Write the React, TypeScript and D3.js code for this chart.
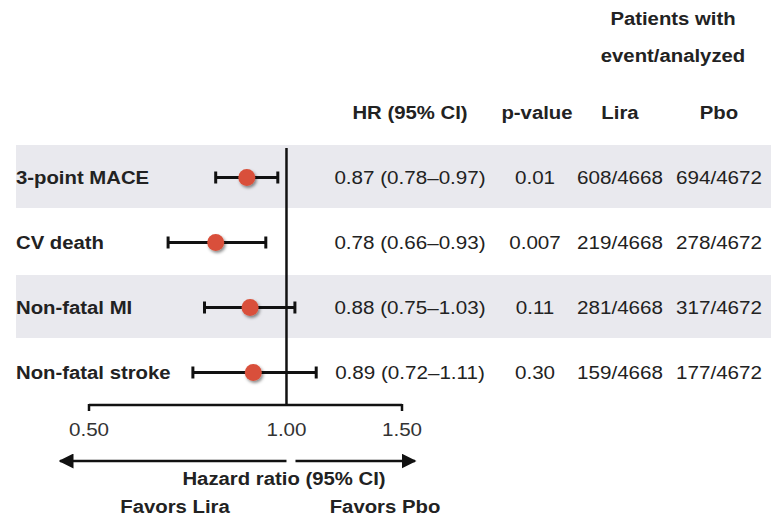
import React from "react";
import * as d3 from "d3";

const outcomes = ["3-point MACE", "CV death", "Non-fatal MI", "Non-fatal stroke"];
const hr = [0.87, 0.78, 0.88, 0.89];
const lower = [0.78, 0.66, 0.75, 0.72];
const upper = [0.97, 0.93, 1.03, 1.11];
const hrText = ["0.87 (0.78\u20130.97)", "0.78 (0.66\u20130.93)", "0.88 (0.75\u20131.03)", "0.89 (0.72\u20131.11)"];
const pValues = ["0.01", "0.007", "0.11", "0.30"];
const liraEvents = ["608/4668", "219/4668", "281/4668", "159/4668"];
const pboEvents = ["694/4672", "278/4672", "317/4672", "177/4672"];
const tickValues = [0.5, 1.0, 1.5];
const tickLabels = ["0.50", "1.00", "1.50"];

const W = 771;
const H = 518;
const FONT = "'Liberation Sans', Arial, sans-serif";
const TXT = "#222";
const FS = 19;

function T({ x, y, children, anchor = "start", bold = false, fill = TXT, sx }: any) {
  const s = sx ?? (bold ? 1.07 : 1.085);
  return (
    <text
      transform={`translate(${x},${y}) scale(${s},1)`}
      dy="0.35em"
      textAnchor={anchor}
      fontWeight={bold ? "bold" : "normal"}
      fontSize={FS}
      fill={fill}
    >
      {children}
    </text>
  );
}

export default function App() {
  const x = d3.scaleLog().domain([0.5, 1.5]).range([89, 402]);
  const y = d3.scaleBand<number>().domain(d3.range(outcomes.length)).range([146, 406]).paddingInner(0);
  const bw = y.bandwidth();
  const axisY = 405;
  const cols = { hr: 410, p: 535, lira: 620, pbo: 719 };

  return (
    <svg width={W} height={H} style={{ position: "absolute", left: 0, top: 0 }} fontFamily={FONT}>
      <defs>
        <filter id="sh" x="-50%" y="-50%" width="200%" height="200%">
          <feDropShadow dx="1.5" dy="2" stdDeviation="1.5" floodColor="#000" floodOpacity="0.45" />
        </filter>
        <marker id="arr" viewBox="0 0 10 10" refX="9" refY="5" markerWidth="6" markerHeight="6" orient="auto-start-reverse">
          <path d="M0,0 L10,5 L0,10 z" fill="#111" />
        </marker>
      </defs>
      <rect width={W} height={H} fill="#fff" />
      {outcomes.map((o, i) =>
        i % 2 === 0 ? (
          <rect key={"b" + i} x={16} y={(y(i) as number) - 1} width={W - 16} height={bw - 2} fill="#e9e9ee" />
        ) : null
      )}
      {/* headers */}
      <T x={673} y={18} anchor="middle" bold>Patients with</T>
      <T x={673} y={55} anchor="middle" bold>event/analyzed</T>
      <T x={cols.hr} y={112} anchor="middle" bold>HR (95% CI)</T>
      <T x={cols.p + 2} y={112} anchor="middle" bold>p-value</T>
      <T x={cols.lira} y={112} anchor="middle" bold>Lira</T>
      <T x={cols.pbo} y={112} anchor="middle" bold>Pbo</T>
      {/* reference line */}
      <line x1={x(1)} x2={x(1)} y1={148} y2={axisY} stroke="#111" strokeWidth={2.5} />
      {outcomes.map((o, i) => {
        const cy = (y(i) as number) + bw / 2 - 1;
        return (
          <g key={"r" + i}>
            <T x={16} y={cy} bold>{o}</T>
            <line x1={x(lower[i])} x2={x(upper[i])} y1={cy} y2={cy} stroke="#111" strokeWidth={3} />
            <line x1={x(lower[i])} x2={x(lower[i])} y1={cy - 6} y2={cy + 6} stroke="#111" strokeWidth={3} />
            <line x1={x(upper[i])} x2={x(upper[i])} y1={cy - 6} y2={cy + 6} stroke="#111" strokeWidth={3} />
            <circle cx={x(hr[i])} cy={cy} r={8.5} fill="#d9503a" filter="url(#sh)" />
            <T x={cols.hr} y={cy} anchor="middle">{hrText[i]}</T>
            <T x={cols.p} y={cy} anchor="middle">{pValues[i]}</T>
            <T x={cols.lira} y={cy} anchor="middle">{liraEvents[i]}</T>
            <T x={cols.pbo} y={cy} anchor="middle">{pboEvents[i]}</T>
          </g>
        );
      })}
      {/* axis */}
      <line x1={x(0.5)} x2={x(1.5)} y1={axisY} y2={axisY} stroke="#111" strokeWidth={2.5} />
      {tickValues.map((t, i) => (
        <g key={"t" + i}>
          {t !== 1 ? <line x1={x(t)} x2={x(t)} y1={axisY - 1} y2={axisY + 6} stroke="#111" strokeWidth={2.5} /> : null}
          <T x={x(t)} y={429} anchor="middle" fill="#333">{tickLabels[i]}</T>
        </g>
      ))}
      {/* arrows */}
      <line x1={x(1)} x2={60} y1={461} y2={461} stroke="#111" strokeWidth={2.5} markerEnd="url(#arr)" />
      <line x1={x(1) + 9} x2={415} y1={461} y2={461} stroke="#111" strokeWidth={2.5} markerEnd="url(#arr)" />
      <T x={284} y={478} anchor="middle" bold>Hazard ratio (95% CI)</T>
      <T x={175} y={506} anchor="middle" bold>Favors Lira</T>
      <T x={385} y={506} anchor="middle" bold>Favors Pbo</T>
    </svg>
  );
}
